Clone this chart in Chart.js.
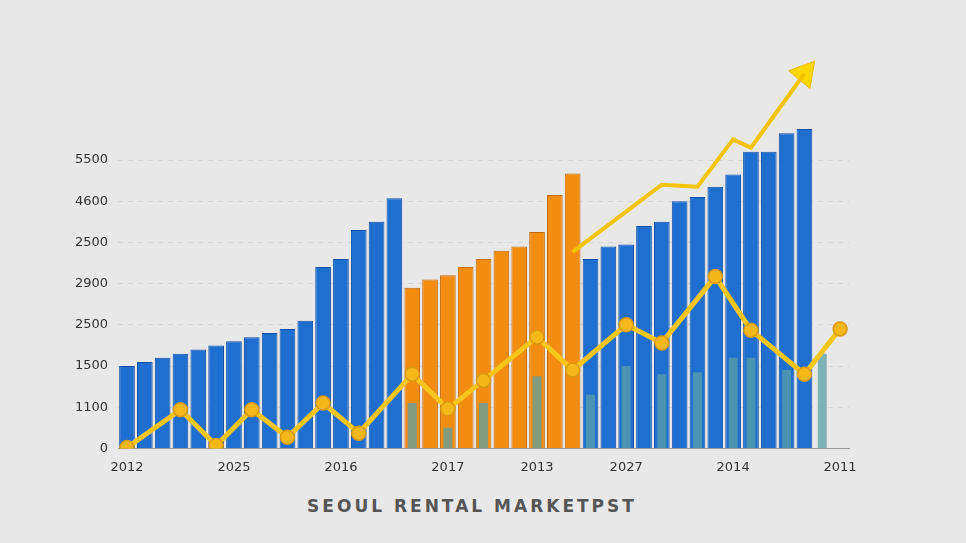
<!DOCTYPE html>
<html>
<head>
<meta charset="utf-8">
<script src="https://cdn.jsdelivr.net/npm/chart.js@4/dist/chart.umd.min.js"></script>
<style>
  body { margin: 0; background: #e8e8e8; }
  #wrap { position: relative; width: 966px; height: 543px; }
  #title { position: absolute; left: 0; width: 944px; top: 496px; text-align: center;
           font: bold 17px "DejaVu Sans", sans-serif; letter-spacing: 3px; color: #555; }
</style>
</head>
<body>
<div id="wrap">
  <canvas id="c" width="966" height="490"></canvas>
  <div id="title">SEOUL RENTAL MARKETPST</div>
</div>
<script>
// tick labels as printed on the picture
const yTickLabels = ['0', '1100', '1500', '2500', '2900', '2500', '4600', '5500'];
const slotLabels = {0: '2012', 6: '2025', 12: '2016', 18: '2017', 23: '2013', 28: '2027', 34: '2014', 40: '2011'};
const slotCount = 41;

// main bars (index = slot)
const blueA = [2.0, 2.1, 2.2, 2.3, 2.4, 2.5, 2.6, 2.7, 2.8, 2.9, 3.1, 4.4, 4.6, 5.3, 5.5, 6.07];
const orange = [3.9, 4.1, 4.2, 4.4, 4.6, 4.8, 4.9, 5.25, 6.15, 6.67];
const blueB = [4.6, 4.9, 4.95, 5.4, 5.5, 6.0, 6.1, 6.35, 6.65, 7.2, 7.2, 7.65, 7.75];

// translucent teal bars in front
const tealSlots = [16, 18, 20, 23, 26, 28, 30, 32, 34, 35, 37, 39];
const tealValues = [1.1, 0.5, 1.1, 1.75, 1.3, 2.0, 1.8, 1.85, 2.2, 2.2, 1.9, 2.3];

// zig-zag yellow line
const lineSlots = [0, 3, 5, 7, 9, 11, 13, 16, 18, 20, 23, 25, 28, 30, 33, 35, 38, 40];
const lineValues = [0.02, 0.94, 0.07, 0.94, 0.27, 1.1, 0.37, 1.8, 0.96, 1.65, 2.7, 1.9, 3.0, 2.56, 4.17, 2.87, 1.8, 2.9];

// rising arrow
const arrowSlots = [25, 30, 32, 34, 35, 38];
const arrowValues = [4.77, 6.4, 6.35, 7.5, 7.3, 9.1];

const labels = Array.from({length: slotCount}, (_, i) => slotLabels[i] || '');
const mainBars = blueA.concat(orange, blueB);
const isBlue = i => i < blueA.length || i >= blueA.length + orange.length;
const mainColors = mainBars.map((_, i) => isBlue(i) ? '#1f6fd1' : '#f28d12');
const mainEdge = mainBars.map((_, i) => isBlue(i) ? '#0f4fa8' : '#c8690a');

function toSlots(slots, values) {
  const out = new Array(slotCount).fill(null);
  slots.forEach((s, i) => out[s] = values[i]);
  return out;
}

new Chart(document.getElementById('c'), {
  data: {
    labels: labels,
    datasets: [
      {
        type: 'line', data: toSlots(arrowSlots, arrowValues), spanGaps: true,
        borderColor: '#f5c400', borderWidth: 4, order: 0, pointRadius: 0
      },
      {
        type: 'line', data: toSlots([38], [9.1]), order: 0,
        showLine: false, pointStyle: 'triangle', rotation: 40, pointRadius: 16,
        pointBackgroundColor: '#ffd800', pointBorderColor: '#f0b800'
      },
      {
        type: 'line', data: toSlots(lineSlots, lineValues), spanGaps: true,
        borderColor: '#f7c51c', borderWidth: 5, order: 1,
        pointRadius: 7, pointBackgroundColor: '#f4b81a', pointBorderColor: '#d99a10', pointBorderWidth: 1.5
      },
      {
        type: 'bar', data: toSlots(tealSlots, tealValues), grouped: false, order: 2,
        backgroundColor: 'rgba(90,160,165,0.75)', barPercentage: 0.5, categoryPercentage: 1
      },
      {
        type: 'bar', data: mainBars, grouped: false, order: 3,
        backgroundColor: mainColors, borderColor: mainEdge, borderWidth: 1,
        barPercentage: 0.88, categoryPercentage: 1
      }
    ]
  },
  options: {
    responsive: false,
    animation: false,
    layout: { padding: { left: 65, right: 117, top: 57, bottom: 12 } },
    plugins: { legend: { display: false }, tooltip: { enabled: false } },
    scales: {
      x: {
        grid: { display: false },
        border: { color: '#999' },
        ticks: { autoSkip: false, maxRotation: 0, color: '#333', font: { family: 'DejaVu Sans', size: 13 } }
      },
      y: {
        min: 0, max: 9.5,
        afterBuildTicks: axis => { axis.ticks = yTickLabels.map((_, i) => ({ value: i })); },
        grid: { color: 'rgba(0,0,0,0.08)', drawTicks: false },
        border: { display: false, dash: [5, 5] },
        ticks: { padding: 10, color: '#333', font: { family: 'DejaVu Sans', size: 13 },
                 callback: (v) => yTickLabels[v] }
      }
    }
  }
});
</script>
</body>
</html>
